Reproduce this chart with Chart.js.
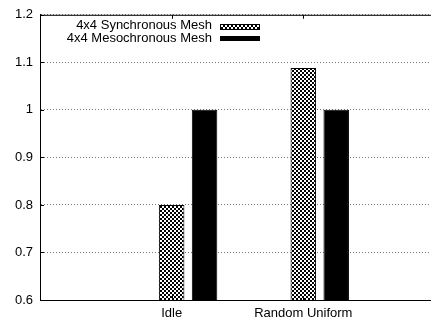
<!DOCTYPE html>
<html><head><meta charset="utf-8">
<script src="https://cdn.jsdelivr.net/npm/chart.js@4.4.1/dist/chart.umd.min.js"></script>
<style>
html,body{margin:0;padding:0;background:#fff;}
#wrap{position:relative;width:431px;height:320px;overflow:hidden;}
.lg{position:absolute;font:13px "Liberation Sans",Arial,sans-serif;color:#000;white-space:nowrap;line-height:13px;text-align:right;}
.sw{position:absolute;box-sizing:border-box;}
</style></head><body>
<div id="wrap"><canvas id="c" width="431" height="320"></canvas><div id="legend"></div></div>
<script>
const categories = ['Idle', 'Random Uniform'];
const seriesNames = ['4x4 Synchronous Mesh', '4x4 Mesochronous Mesh'];
const syncValues = [0.80, 1.088];
const mesoValues = [1.0, 1.0];
const yTicks = [0.6, 0.7, 0.8, 0.9, 1, 1.1, 1.2];

// crosshatch-like fill (staggered white squares on black)
const P = 4;
const pc = document.createElement('canvas');
pc.width = P; pc.height = P;
const pctx = pc.getContext('2d');
const img = pctx.createImageData(P, P);
for (let j = 0; j < P; j++) for (let i = 0; i < P; i++) {
  const white = (i < 2) === (j < 2);
  const k = (j * P + i) * 4;
  const v = white ? 255 : 0;
  img.data[k] = v; img.data[k+1] = v; img.data[k+2] = v; img.data[k+3] = 255;
}
pctx.putImageData(img, 0, 0);
const ctx = document.getElementById('c').getContext('2d');
const hatch = ctx.createPattern(pc, 'repeat');

// legend (HTML text)
const lg = document.getElementById('legend');
const rows = [{top: 18.3, box: 24, h: 5.5, bg: 'url(' + pc.toDataURL() + ')', border: '1px solid #000'},
              {top: 30.7, box: 35.5, h: 5.5, bg: '#000', border: 'none'}];
seriesNames.forEach((n, i) => {
  const t = document.createElement('div');
  t.className = 'lg'; t.textContent = n;
  t.style.right = (431 - 212) + 'px'; t.style.top = rows[i].top + 'px';
  lg.appendChild(t);
  const s = document.createElement('div');
  s.className = 'sw';
  s.style.left = '220px'; s.style.width = '40px';
  s.style.top = rows[i].box + 'px'; s.style.height = rows[i].h + 'px';
  s.style.background = rows[i].bg; s.style.border = rows[i].border;
  lg.appendChild(s);
});

const frame = {
  id: 'frame',
  afterDatasetsDraw(chart) {
    const {ctx, chartArea: a, scales: {x, y}} = chart;
    ctx.save();
    ctx.strokeStyle = '#000';
    ctx.lineWidth = 1;
    ctx.beginPath();
    ctx.moveTo(a.left, a.top + 0.5); ctx.lineTo(a.right, a.top + 0.5);
    x.ticks.forEach(t => {
      const px = Math.round(x.getPixelForValue(t.value)) + 0.5;
      ctx.moveTo(px, a.top); ctx.lineTo(px, a.top + 4);
      ctx.moveTo(px, a.bottom); ctx.lineTo(px, a.bottom - 4);
    });
    y.ticks.forEach(t => {
      const py = Math.round(y.getPixelForValue(t.value)) + 0.5;
      ctx.moveTo(a.left, py); ctx.lineTo(a.left + 4, py);
    });
    ctx.stroke();
    ctx.restore();
  }
};

const font = {family: '"Liberation Sans", Arial, sans-serif', size: 13};
new Chart(ctx, {
  type: 'bar',
  data: {
    datasets: [
      {label: seriesNames[0], data: categories.map((c, i) => ({x: i, y: syncValues[i]})),
       backgroundColor: hatch, borderColor: '#000', borderWidth: 1},
      {label: seriesNames[1], data: categories.map((c, i) => ({x: i + 0.25, y: mesoValues[i]})),
       backgroundColor: '#000', borderColor: '#000', borderWidth: 1}
    ]
  },
  options: {
    responsive: false,
    animation: false,
    grouped: false,
    barPercentage: 0.775,
    categoryPercentage: 1,
    layout: {padding: {top: 13, left: 0, right: 0, bottom: 0}},
    plugins: {legend: {display: false}, tooltip: {enabled: false}},
    scales: {
      x: {
        type: 'linear', min: -1, max: 1.97, offset: false,
        afterBuildTicks: s => { s.ticks = categories.map((c, i) => ({value: i})); },
        afterFit: s => { s.height = 20; },
        ticks: {callback: v => categories[v], autoSkip: false, maxRotation: 0, padding: 6, color: '#000', font},
        grid: {display: false, drawTicks: false, offset: false},
        border: {display: true, color: '#000', width: 1}
      },
      y: {
        min: 0.6, max: 1.2,
        afterBuildTicks: s => { s.ticks = yTicks.map(v => ({value: v})); },
        afterFit: s => { s.width = 40; },
        ticks: {callback: v => String(v), padding: 7, color: '#000', font},
        grid: {color: '#777', drawTicks: false, lineWidth: 1},
        border: {display: true, color: '#000', width: 1, dash: [1, 2]}
      }
    }
  },
  plugins: [frame]
});
</script>
</body></html>
